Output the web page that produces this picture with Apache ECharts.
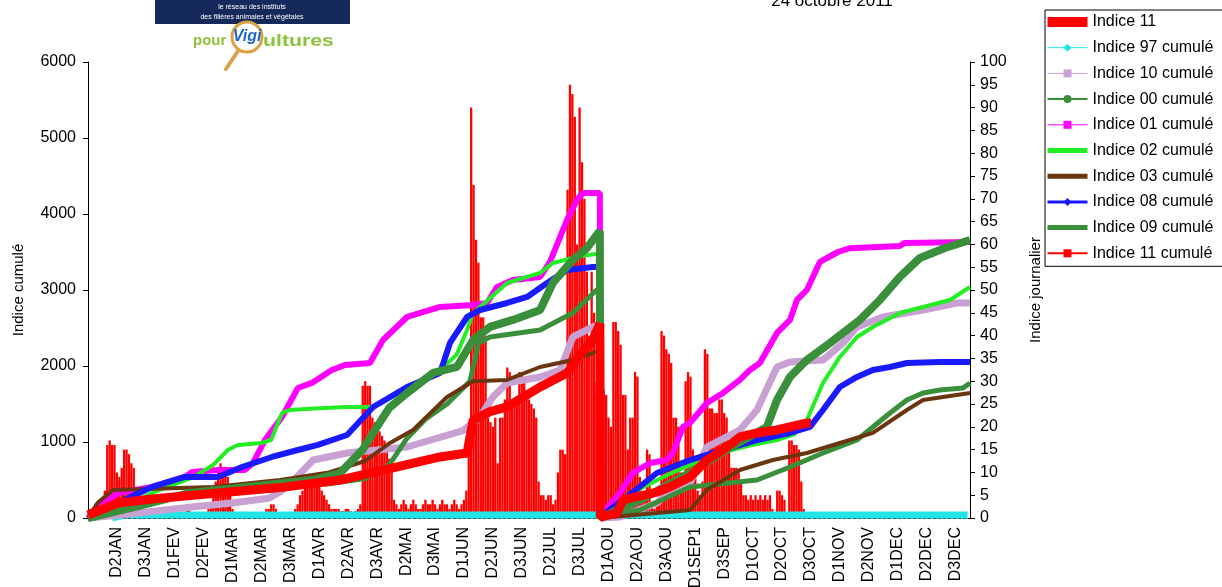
<!DOCTYPE html>
<html><head><meta charset="utf-8">
<script src="https://cdn.jsdelivr.net/npm/echarts/dist/echarts.min.js"></script>
<style>html,body{margin:0;padding:0;background:#fff}#c{width:1222px;height:587px}</style>
</head><body><div id="c"></div>
<script>
// x values: day index (1 = 1 January), labels every 12 days
const xLabels = ['D2JAN','D3JAN','D1FEV','D2FEV','D1MAR','D2MAR','D3MAR','D1AVR','D2AVR','D3AVR','D2MAI','D3MAI','D1JUN','D2JUN','D3JUN','D2JUL','D3JUL','D1AOU','D2AOU','D3AOU','D1SEP1','D3SEP','D1OCT','D2OCT','D3OCT','D1NOV','D2NOV','D1DEC','D2DEC','D3DEC'];

// Indice 11 daily values (right axis), day 1..300
const bar11 = [
 2,2,3,2,2,3,6,16,17,16,
 16,10,9,11,15,15,14,12,11,5,
 3,2,2,1,1,1,0.5,0.5,1,1,
 0.5,0.5,1,0.5,0.5,1,0.5,0.5,1,1,
 2,2,1,1,0.5,0.5,0.5,1,1,2,
 3,6,8,10,12,11,10,9,6,2,
 1,0.5,0.5,0.5,0.5,0.5,1,1,0.5,0.5,
 0.5,1,1,2,2,3,3,2,1,1,
 0.5,0.5,1,1,1,2,3,5,6,8,
 9,9,8,8,7,7,6,5,4,3,
 2,2,2,2,1.5,1.5,2,2,1.5,1,
 1.5,2,3,29,30,29,29,22,21,20,
 19,18,17,15,13,12,4,3,2,3,
 4,3,2,3,4,3,2,2,3,4,
 3,3,4,3,2,3,4,3,3,2,
 3,4,3,2,3,4,6,20,90,73,
 61,56,44,44,40,22,21,20,22,12,
 22,22,26,33,32,24,25,26,32,32,
 30,26,26,25,24,22,8,5,5,4,
 5,5,3,4,10,15,15,14,72,95,
 93,88,60,90,78,70,54,40,54,45,
 30,2,26,28,27,22,20,43,43,41,
 38,27,27,15,22,22,32,31,9,5,
 4,15,14,3,2,3,4,41,40,37,
 36,34,22,22,20,10,8,30,32,31,
 15,10,6,5,8,37,36,24,24,23,
 23,26,26,23,22,16,11,11,11,10,
 8,5,5,4,5,4,5,4,5,4,
 5,4,5,2,1,6,6,5,4,1,
 17,17,16,16,15,8,2,1,1,0
];

// cumulated series [day, value] (left axis)
const s97 = [[10,0],[15,39],[365,39]];
const s10 = [[0,0],[10,30],[20.7,66],[45,150],[59.8,197],[75,260],[80,350],[86.7,540],[93.4,763],[107.5,855],[132.4,934],[155.6,1150],[162.7,1329],[168,1592],[173.9,1777],[187.6,1856],[195.9,1948],[201.2,2382],[209.5,2514],[212.4,2550],[212.6,0],[220.7,13],[236.1,197],[240.2,329],[249.8,461],[256.8,934],[270.5,1158],[277.6,1421],[285.9,1987],[291.3,2053],[305,2079],[313.3,2303],[319.1,2514],[329.9,2645],[346.5,2737],[360.6,2829],[366,2829]];
const s00 = [[0,0],[10,150],[25,230],[45,300],[70,380],[100,450],[115,520],[125,700],[132.4,1050],[140,1300],[149,1500],[158.5,1800],[162,2300],[166.8,2382],[187.6,2474],[201.2,2698],[211,3000],[212.4,3000],[212.6,0],[229,105],[249.8,408],[277.6,500],[291.3,671],[305,855],[319.1,1026],[332.8,1382],[339.8,1553],[346.5,1645],[353.5,1684],[363.1,1711],[366,1777]];
const s01 = [[0,0],[2.9,105],[12.4,329],[26.6,408],[40.2,540],[43.2,605],[53.9,632],[65.1,632],[68.5,724],[73.4,1026],[80.5,1329],[87.1,1711],[92.9,1777],[101.2,1948],[106.6,2013],[117,2040],[122.4,2342],[132.4,2645],[146.1,2777],[159.8,2803],[165.6,2829],[169.7,3040],[176.3,3132],[187.6,3172],[191.7,3369],[198.8,3922],[202.9,4185],[205.4,4277],[212.4,4277],[212.6,30],[220.7,329],[226.1,592],[233.2,724],[240.2,763],[242.7,855],[246.9,1198],[249.8,1250],[256.8,1513],[263.5,1645],[270.5,1816],[274.7,1948],[278.8,2040],[285.9,2435],[291.3,2606],[294.2,2869],[298.3,3000],[303.7,3369],[311.2,3500],[316.2,3550],[336.9,3580],[339,3619],[366,3632]];
const s02 = [[0,0],[15,150],[26.6,329],[44,540],[52,700],[58,895],[62.2,961],[72,987],[76,1026],[80.5,1382],[83.8,1421],[94,1440],[107,1461],[118.3,1461],[121,1500],[132,1700],[146.1,1948],[153,2150],[157.3,2474],[159.8,2698],[162.7,2777],[173.9,3093],[187.6,3224],[192.9,3356],[205,3450],[212.4,3480],[212.6,0],[220,200],[230,400],[240,560],[250,700],[262,850],[274,950],[285.9,1026],[293,1100],[298.3,1290],[305,1777],[312,2119],[319.1,2382],[325.7,2514],[336.9,2698],[346.5,2777],[357.7,2869],[366,3040]];
const s03 = [[0,0],[4,200],[10.4,368],[51.9,408],[79.7,500],[100,600],[115,750],[125.3,987],[134.9,1158],[149,1592],[159.8,1800],[173.9,1816],[187.6,1987],[201.2,2079],[209.5,2171],[212.4,2211],[212.6,0],[236.1,66],[249.8,105],[256.8,368],[270.5,632],[284.2,763],[298.3,855],[312,987],[325.7,1119],[339.8,1421],[346.5,1553],[366,1645]];
const s08 = [[0,0],[2.9,13],[12.4,197],[26.6,408],[40.2,540],[53.9,540],[63.9,671],[76.3,803],[87.1,895],[95.4,961],[107.5,1092],[118.3,1461],[132.4,1724],[146.1,1908],[150.2,2303],[157.3,2645],[162.7,2737],[173.9,2829],[182.2,2908],[190.5,3093],[198.8,3264],[209.5,3303],[212.4,3303],[212.6,13],[222,237],[236.1,592],[249.8,763],[263.5,895],[277.6,1026],[291.3,1119],[299.6,1198],[305,1421],[312,1724],[319.1,1856],[325.7,1948],[332.8,1987],[339.8,2040],[353.5,2053],[366,2053]];
const s09 = [[0,0],[20,150],[42.3,329],[66,408],[93.4,500],[104.6,592],[114,900],[118.3,1119],[125,1450],[132.4,1645],[143.2,1908],[153.1,1987],[159.8,2342],[166.8,2514],[176.3,2606],[187.6,2737],[192.9,3093],[201.2,3395],[207,3550],[212.4,3777],[212.6,0],[230,250],[250,600],[265,900],[281.7,1198],[285.9,1553],[291.3,1856],[298.3,2079],[307.9,2303],[320.3,2606],[328.6,2869],[336.9,3172],[345.2,3421],[355.6,3553],[366,3658]];
const s11c = [[0,39],[12.4,197],[26.6,250],[53.9,330],[79.7,400],[104.6,500],[121.2,620],[146.1,803],[157.3,855],[159.8,1290],[166.8,1400],[173.9,1461],[187.6,1724],[198.8,1908],[203,2100],[209.5,2342],[212.4,2560],[212.6,13],[219.5,66],[222,237],[236.1,342],[241.5,408],[249.8,540],[256.8,763],[263.5,895],[270.5,1066],[277.6,1119],[285.9,1158],[298.3,1250],[300,1250]];

const FONT = '"Liberation Sans", Arial, sans-serif';
const chart = echarts.init(document.getElementById('c'), null, {renderer:'canvas'});

function lineSeries(name, data, color, width, symbol, z){
  return {name, type:'line', data, yAxisIndex:0, showSymbol:false, symbol, symbolSize:7,
    lineStyle:{color, width}, itemStyle:{color}, z, animation:false, silent:true};
}
// legend icon: thick flat line without marker
const thickIcon = 'path://M0,0M0,2.5L40,2.5L40,7.5L0,7.5ZM40,10';

const option = {
  animation:false,
  textStyle:{fontFamily:FONT},
  grid:{left:88, right:252, top:62, bottom:69, outerBoundsMode:'none', containLabel:false},
  xAxis:{type:'value', min:0, max:366, interval:12,
    axisLine:{show:true, onZero:false, lineStyle:{color:'#000', type:[3,2], width:1}},
    axisTick:{show:false}, splitLine:{show:false},
    axisLabel:{rotate:90, fontSize:16, color:'#000', margin:9, showMinLabel:false, showMaxLabel:false,
      formatter:function(v){ const i=Math.round(v/12)-1; return (i>=0 && i<xLabels.length)? xLabels[i] : ''; }}},
  yAxis:[
    {type:'value', min:0, max:6000, interval:1000, position:'left',
     name:'Indice cumulé', nameLocation:'middle', nameGap:62, nameTextStyle:{fontSize:15, color:'#000'},
     axisLine:{show:true, lineStyle:{color:'#000', width:1}}, axisTick:{show:true, length:5, lineStyle:{color:'#000'}},
     axisLabel:{fontSize:16, color:'#000', margin:12, formatter:function(v){return String(v);}}, splitLine:{show:false}},
    {type:'value', min:0, max:100, interval:5, position:'right',
     name:'Indice journalier', nameLocation:'middle', nameGap:58, nameTextStyle:{fontSize:15, color:'#000'},
     axisLine:{show:true, lineStyle:{color:'#000', width:1}}, axisTick:{show:true, length:5, lineStyle:{color:'#000'}},
     axisLabel:{fontSize:16, color:'#000', margin:10, formatter:function(v){return String(v);}}, splitLine:{show:false}}
  ],
  legend:{orient:'vertical', left:1045, top:10, padding:[4,40,5,1], itemGap:9.7, itemWidth:40, itemHeight:10,
    borderColor:'#000', borderWidth:1, backgroundColor:'#fff',
    textStyle:{fontSize:16, color:'#000', fontFamily:FONT},
    data:[
      {name:'Indice 11', icon:'rect'},
      {name:'Indice 97 cumulé', lineStyle:{width:1}},
      {name:'Indice 10 cumulé', lineStyle:{width:1}},
      {name:'Indice 00 cumulé', lineStyle:{width:2}},
      {name:'Indice 01 cumulé', lineStyle:{width:1}},
      {name:'Indice 02 cumulé', icon:thickIcon},
      {name:'Indice 03 cumulé', icon:thickIcon},
      {name:'Indice 08 cumulé', lineStyle:{width:3}},
      {name:'Indice 09 cumulé', icon:thickIcon},
      {name:'Indice 11 cumulé', lineStyle:{width:2}}
    ]},
  series:[
    {name:'Indice 11', type:'bar', yAxisIndex:1, barWidth:2.3, data:bar11.map((v,i)=>[i+1,v]),
     itemStyle:{color:'#ff0000'}, z:1, silent:true},
    lineSeries('Indice 97 cumulé', s97, '#22e6e6', 7, 'diamond', 2),
    lineSeries('Indice 10 cumulé', s10, '#c9a0d2', 7, 'rect', 3),
    lineSeries('Indice 00 cumulé', s00, '#3a8f3a', 5, 'circle', 4),
    lineSeries('Indice 01 cumulé', s01, '#ff00ff', 6, 'rect', 5),
    lineSeries('Indice 02 cumulé', s02, '#22ee22', 4, 'none', 6),
    lineSeries('Indice 03 cumulé', s03, '#6b3510', 4, 'none', 7),
    lineSeries('Indice 08 cumulé', s08, '#1a1aff', 6, 'diamond', 8),
    lineSeries('Indice 09 cumulé', s09, '#3a8f3a', 8, 'none', 9),
    lineSeries('Indice 11 cumulé', s11c, '#ff0000', 9, 'rect', 10)
  ],
  graphic:[
    {type:'rect', shape:{x:155, y:-2, width:195, height:26}, style:{fill:'#15295a'}},
    {type:'text', style:{x:252, y:7, text:'le réseau des instituts', fill:'#fff', font:'7px '+FONT, align:'center', verticalAlign:'middle'}},
    {type:'text', style:{x:252, y:17, text:'des filières animales et végétales', fill:'#fff', font:'7px '+FONT, align:'center', verticalAlign:'middle'}},
    {type:'text', style:{x:193, y:41, text:'pour', fill:'#8cc33c', font:'bold 15px '+FONT, verticalAlign:'middle'}},
    {type:'line', shape:{x1:238, y1:51, x2:226, y2:69}, style:{stroke:'#d7a246', lineWidth:4, lineCap:'round'}},
    {type:'circle', shape:{cx:247, cy:37, r:15}, style:{fill:'#fff', stroke:'#d7a246', lineWidth:3}},
    {type:'text', style:{x:247, y:37, text:'Vigi', fill:'#2166c8', font:'italic bold 16px '+FONT, align:'center', verticalAlign:'middle'}},
    {type:'text', x:263, y:41, scaleX:1.25, style:{x:0, y:0, text:'ultures', fill:'#8cc33c', font:'bold 17px '+FONT, verticalAlign:'middle'}},
    {type:'text', style:{x:832, y:1, text:'24 octobre 2011', fill:'#000', font:'17px '+FONT, align:'center', verticalAlign:'middle'}}
  ]
};
chart.setOption(option);
</script>
</body></html>
